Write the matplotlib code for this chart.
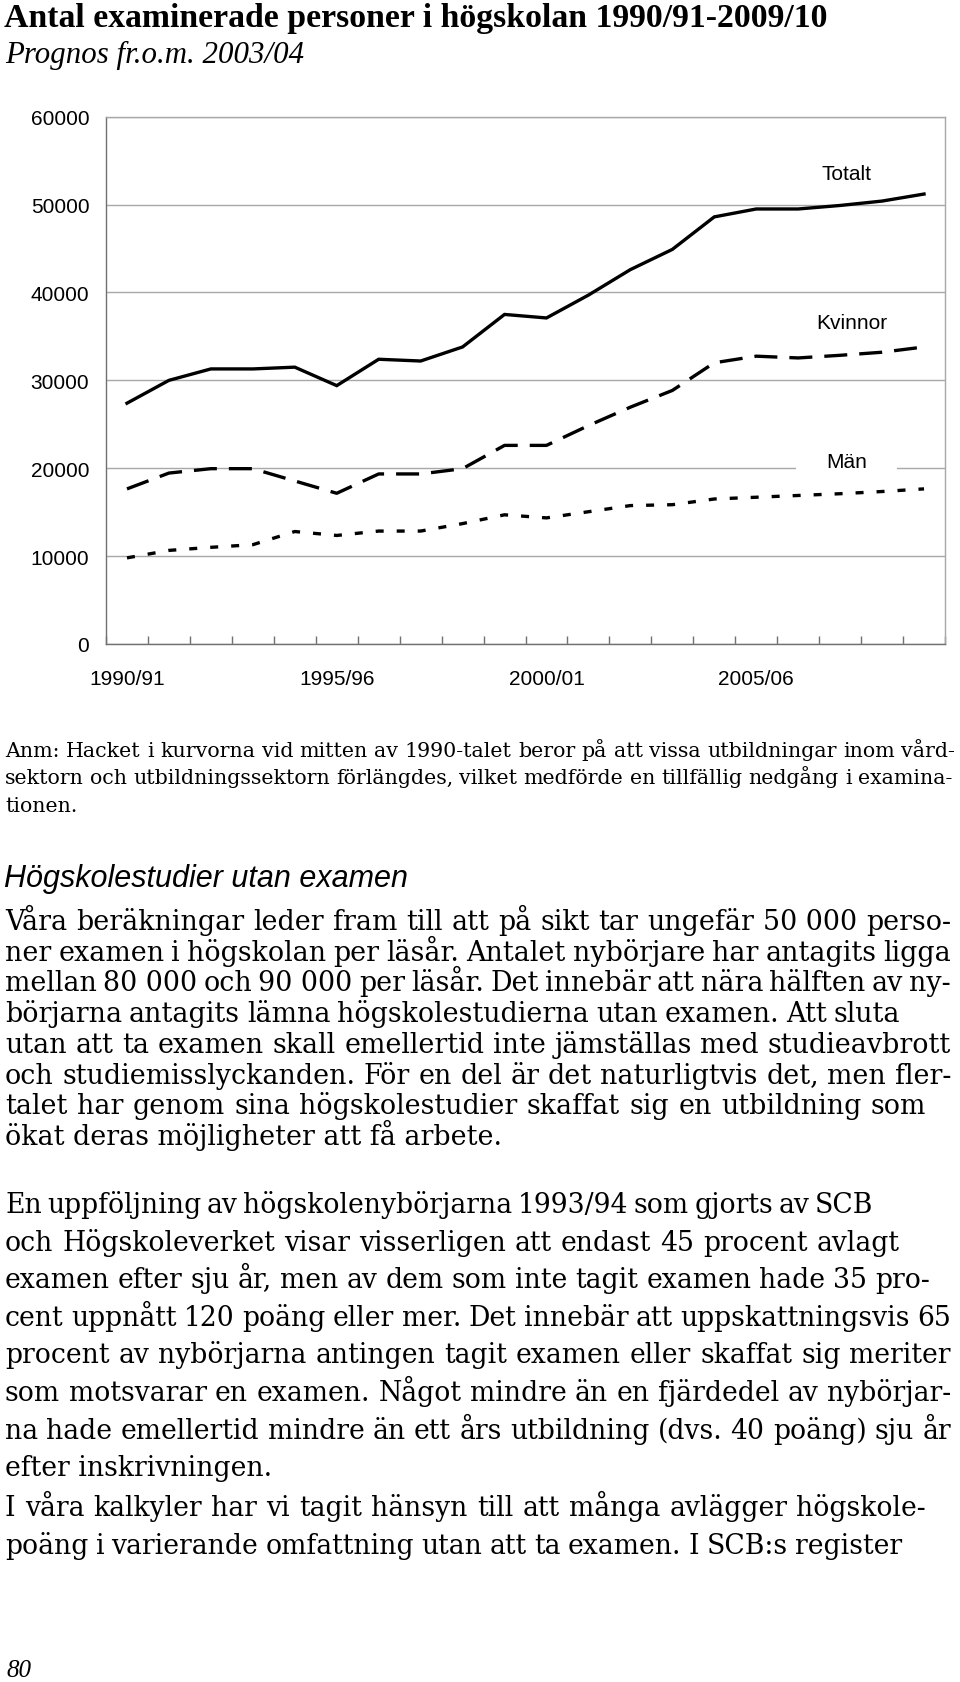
import matplotlib
matplotlib.use('Agg')
import matplotlib.pyplot as plt
from matplotlib.font_manager import FontProperties
import numpy as np

W, H, DPI = 960, 1683, 100

# ---------------- data ----------------
years = ['1990/91', '1991/92', '1992/93', '1993/94', '1994/95', '1995/96', '1996/97',
         '1997/98', '1998/99', '1999/00', '2000/01', '2001/02', '2002/03', '2003/04',
         '2004/05', '2005/06', '2006/07', '2007/08', '2008/09', '2009/10']
totalt = [27400, 30000, 31300, 31300, 31500, 29400, 32400, 32200, 33800, 37500,
          37100, 39700, 42600, 44900, 48600, 49500, 49500, 49900, 50400, 51200]
kvinnor = [17650, 19450, 19950, 19950, 18550, 17150, 19350, 19350, 19950, 22600,
           22600, 24850, 26950, 28850, 32000, 32750, 32550, 32850, 33200, 33800]
man = [9800, 10650, 11000, 11300, 12800, 12350, 12850, 12850, 13700, 14700,
       14350, 15050, 15750, 15850, 16500, 16700, 16900, 17100, 17350, 17650]
shown_labels = ['1990/91', '1995/96', '2000/01', '2005/06']
y_ticks = [0, 10000, 20000, 30000, 40000, 50000, 60000]
series_names = ['Totalt', 'Kvinnor', 'Män']

title = 'Antal examinerade personer i högskolan 1990/91-2009/10'
subtitle = 'Prognos fr.o.m. 2003/04'
anm_lines = [
    'Anm: Hacket i kurvorna vid mitten av 1990-talet beror på att vissa utbildningar inom vård-',
    'sektorn och utbildningssektorn förlängdes, vilket medförde en tillfällig nedgång i examina-',
    'tionen.',
]
heading = 'Högskolestudier utan examen'
p1_lines = [
    'Våra beräkningar leder fram till att på sikt tar ungefär 50\u00a0000 perso-',
    'ner examen i högskolan per läsår. Antalet nybörjare har antagits ligga',
    'mellan 80\u00a0000 och 90\u00a0000 per läsår. Det innebär att nära hälften av ny-',
    'börjarna antagits lämna högskolestudierna utan examen. Att sluta',
    'utan att ta examen skall emellertid inte jämställas med studieavbrott',
    'och studiemisslyckanden. För en del är det naturligtvis det, men fler-',
    'talet har genom sina högskolestudier skaffat sig en utbildning som',
    'ökat deras möjligheter att få arbete.',
]
p2_lines = [
    'En uppföljning av högskolenybörjarna 1993/94 som gjorts av SCB',
    'och Högskoleverket visar visserligen att endast 45 procent avlagt',
    'examen efter sju år, men av dem som inte tagit examen hade 35 pro-',
    'cent uppnått 120 poäng eller mer. Det innebär att uppskattningsvis 65',
    'procent av nybörjarna antingen tagit examen eller skaffat sig meriter',
    'som motsvarar en examen. Något mindre än en fjärdedel av nybörjar-',
    'na hade emellertid mindre än ett års utbildning (dvs. 40 poäng) sju år',
    'efter inskrivningen.',
]
p3_lines = [
    'I våra kalkyler har vi tagit hänsyn till att många avlägger högskole-',
    'poäng i varierande omfattning utan att ta examen. I SCB:s register',
]
page_no = '80'

# ---------------- figure ----------------
fig = plt.figure(figsize=(W / DPI, H / DPI), dpi=DPI)
fig.patch.set_facecolor('white')

def px(x, y):
    return x / W, 1 - y / H

ax_l, ax_r, ax_t, ax_b = 106, 945, 117.7, 645
ax = fig.add_axes([ax_l / W, 1 - ax_b / H, (ax_r - ax_l) / W, (ax_b - ax_t) / H])

n = len(years)
xc = np.arange(n) + 0.5
ax.set_xlim(0, n)
ax.set_ylim(0, 60000)

lw = 2.4
ax.plot(xc, totalt, color='black', lw=lw, solid_joinstyle='miter', zorder=3)
ax.plot(xc, kvinnor, color='black', lw=lw, linestyle=(0, (6.9, 3.6)),
        dash_capstyle='butt', zorder=3)
ax.plot(xc, man, color='black', lw=lw, linestyle=(0, (2.4, 3.9)),
        dash_capstyle='butt', zorder=3)

grid_c = '#a8a8a8'
ax.set_yticks(y_ticks)
ax.set_yticklabels([str(v) for v in y_ticks])
ax.yaxis.grid(True, color=grid_c, lw=1.0)
ax.set_axisbelow(True)

ax.set_xticks(np.arange(0, n + 1))
ax.set_xticklabels([])
ax.set_xticks([years.index(s) + 0.5 for s in shown_labels], minor=True)
ax.set_xticklabels(shown_labels, minor=True)
ax.tick_params(axis='x', which='major', direction='in', length=6, width=1.0,
               color='#707070')
ax.tick_params(axis='x', which='minor', length=0, pad=18, labelsize=15)
ax.tick_params(axis='y', length=0, pad=12, labelsize=15)
for lab in ax.get_xticklabels(minor=True) + ax.get_yticklabels():
    lab.set_fontfamily('Liberation Sans')

for side in ['left', 'bottom']:
    ax.spines[side].set_color('#707070')
    ax.spines[side].set_linewidth(1.0)
for side in ['top', 'right']:
    ax.spines[side].set_color(grid_c)
    ax.spines[side].set_linewidth(1.0)

lab_kw = dict(ha='center', va='center', fontsize=15, fontfamily='Liberation Sans',
              zorder=2.5)
ax.text(17.66, 53500, series_names[0], **lab_kw)
ax.text(17.78, 36550, series_names[1], **lab_kw)
ax.text(17.66, 20800, series_names[2],
        bbox=dict(facecolor='white', edgecolor='none', boxstyle='square,pad=1.45'),
        **lab_kw)

# ---------------- text layout helpers ----------------
renderer = fig.canvas.get_renderer()

def tw(s, fp):
    w, h, d = renderer.get_text_width_height_descent(s, fp, ismath=False)
    return w

def fit(s, target, **kw):
    fp = FontProperties(size=20, **kw)
    return 20 * target / tw(s, fp)

def para_size(lines, targets, x0, **kw):
    fp = FontProperties(size=20, **kw)
    ratios = [(t - x0) / tw(s, fp) for s, t in zip(lines, targets) if t is not None]
    return 20 * float(np.median(ratios))

def draw_lines(lines, targets, baselines, fp, x0=5):
    space = tw('a a', fp) - tw('aa', fp)
    for s, tgt, yb in zip(lines, targets, baselines):
        words = s.split(' ')
        if tgt is None or len(words) == 1:
            fig.text(*px(x0, yb), s, fontproperties=fp, va='baseline', ha='left')
            continue
        ws = [tw(w, fp) for w in words]
        gap = (tgt - x0 - sum(ws)) / (len(words) - 1)
        gap = max(gap, 0.6 * space)
        x = x0
        for w, wi in zip(words, ws):
            fig.text(*px(x, yb), w, fontproperties=fp, va='baseline', ha='left')
            x += wi + gap

serif = 'Liberation Serif'
body = 'DejaVu Serif'
shrink = 1.0

# title and subtitle
ts = fit(title, 822, family=serif, weight='bold')
fig.text(*px(4, 26.7), title, fontproperties=FontProperties(family=serif, weight='bold', size=ts),
         va='baseline', ha='left')
ss = fit(subtitle, 298, family=serif, style='italic')
fig.text(*px(5, 63), subtitle, fontproperties=FontProperties(family=serif, style='italic', size=ss),
         va='baseline', ha='left')

# Anm
anm_t = [955, 952, None]
anm_size = shrink * para_size(anm_lines, anm_t, 5, family=body)
draw_lines(anm_lines, anm_t, [757.5, 784.5, 812], FontProperties(family=body, size=anm_size))

# heading
hs = fit(heading, 403, family='Liberation Sans', style='italic')
fig.text(*px(4, 886.7), heading,
         fontproperties=FontProperties(family='Liberation Sans', style='italic', size=hs),
         va='baseline', ha='left')

# paragraph 1
p1_t = [951, 951, 951, 900, 951, 951, 926, None]
p1_size = shrink * para_size(p1_lines, p1_t, 5, family=body)
p1_b = [930 + 30.7 * i for i in range(len(p1_lines))]
draw_lines(p1_lines, p1_t, p1_b, FontProperties(family=body, size=p1_size))

# paragraph 2
p2_t = [873, 900, 930, 951, 951, 951, 951, None]
p2_size = shrink * para_size(p2_lines, p2_t, 5, family=body)
p2_b = [1213 + 37.6 * i for i in range(len(p2_lines))]
draw_lines(p2_lines, p2_t, p2_b, FontProperties(family=body, size=p2_size))

# paragraph 3
p3_t = [926, 902]
p3_b = [1516.5, 1554.5]
draw_lines(p3_lines, p3_t, p3_b, FontProperties(family=body, size=p2_size))

# page number
fig.text(*px(6, 1677), page_no, fontproperties=FontProperties(family=serif, style='italic', size=18),
         va='baseline', ha='left')

fig.savefig('out.png', dpi=DPI, facecolor='white')
